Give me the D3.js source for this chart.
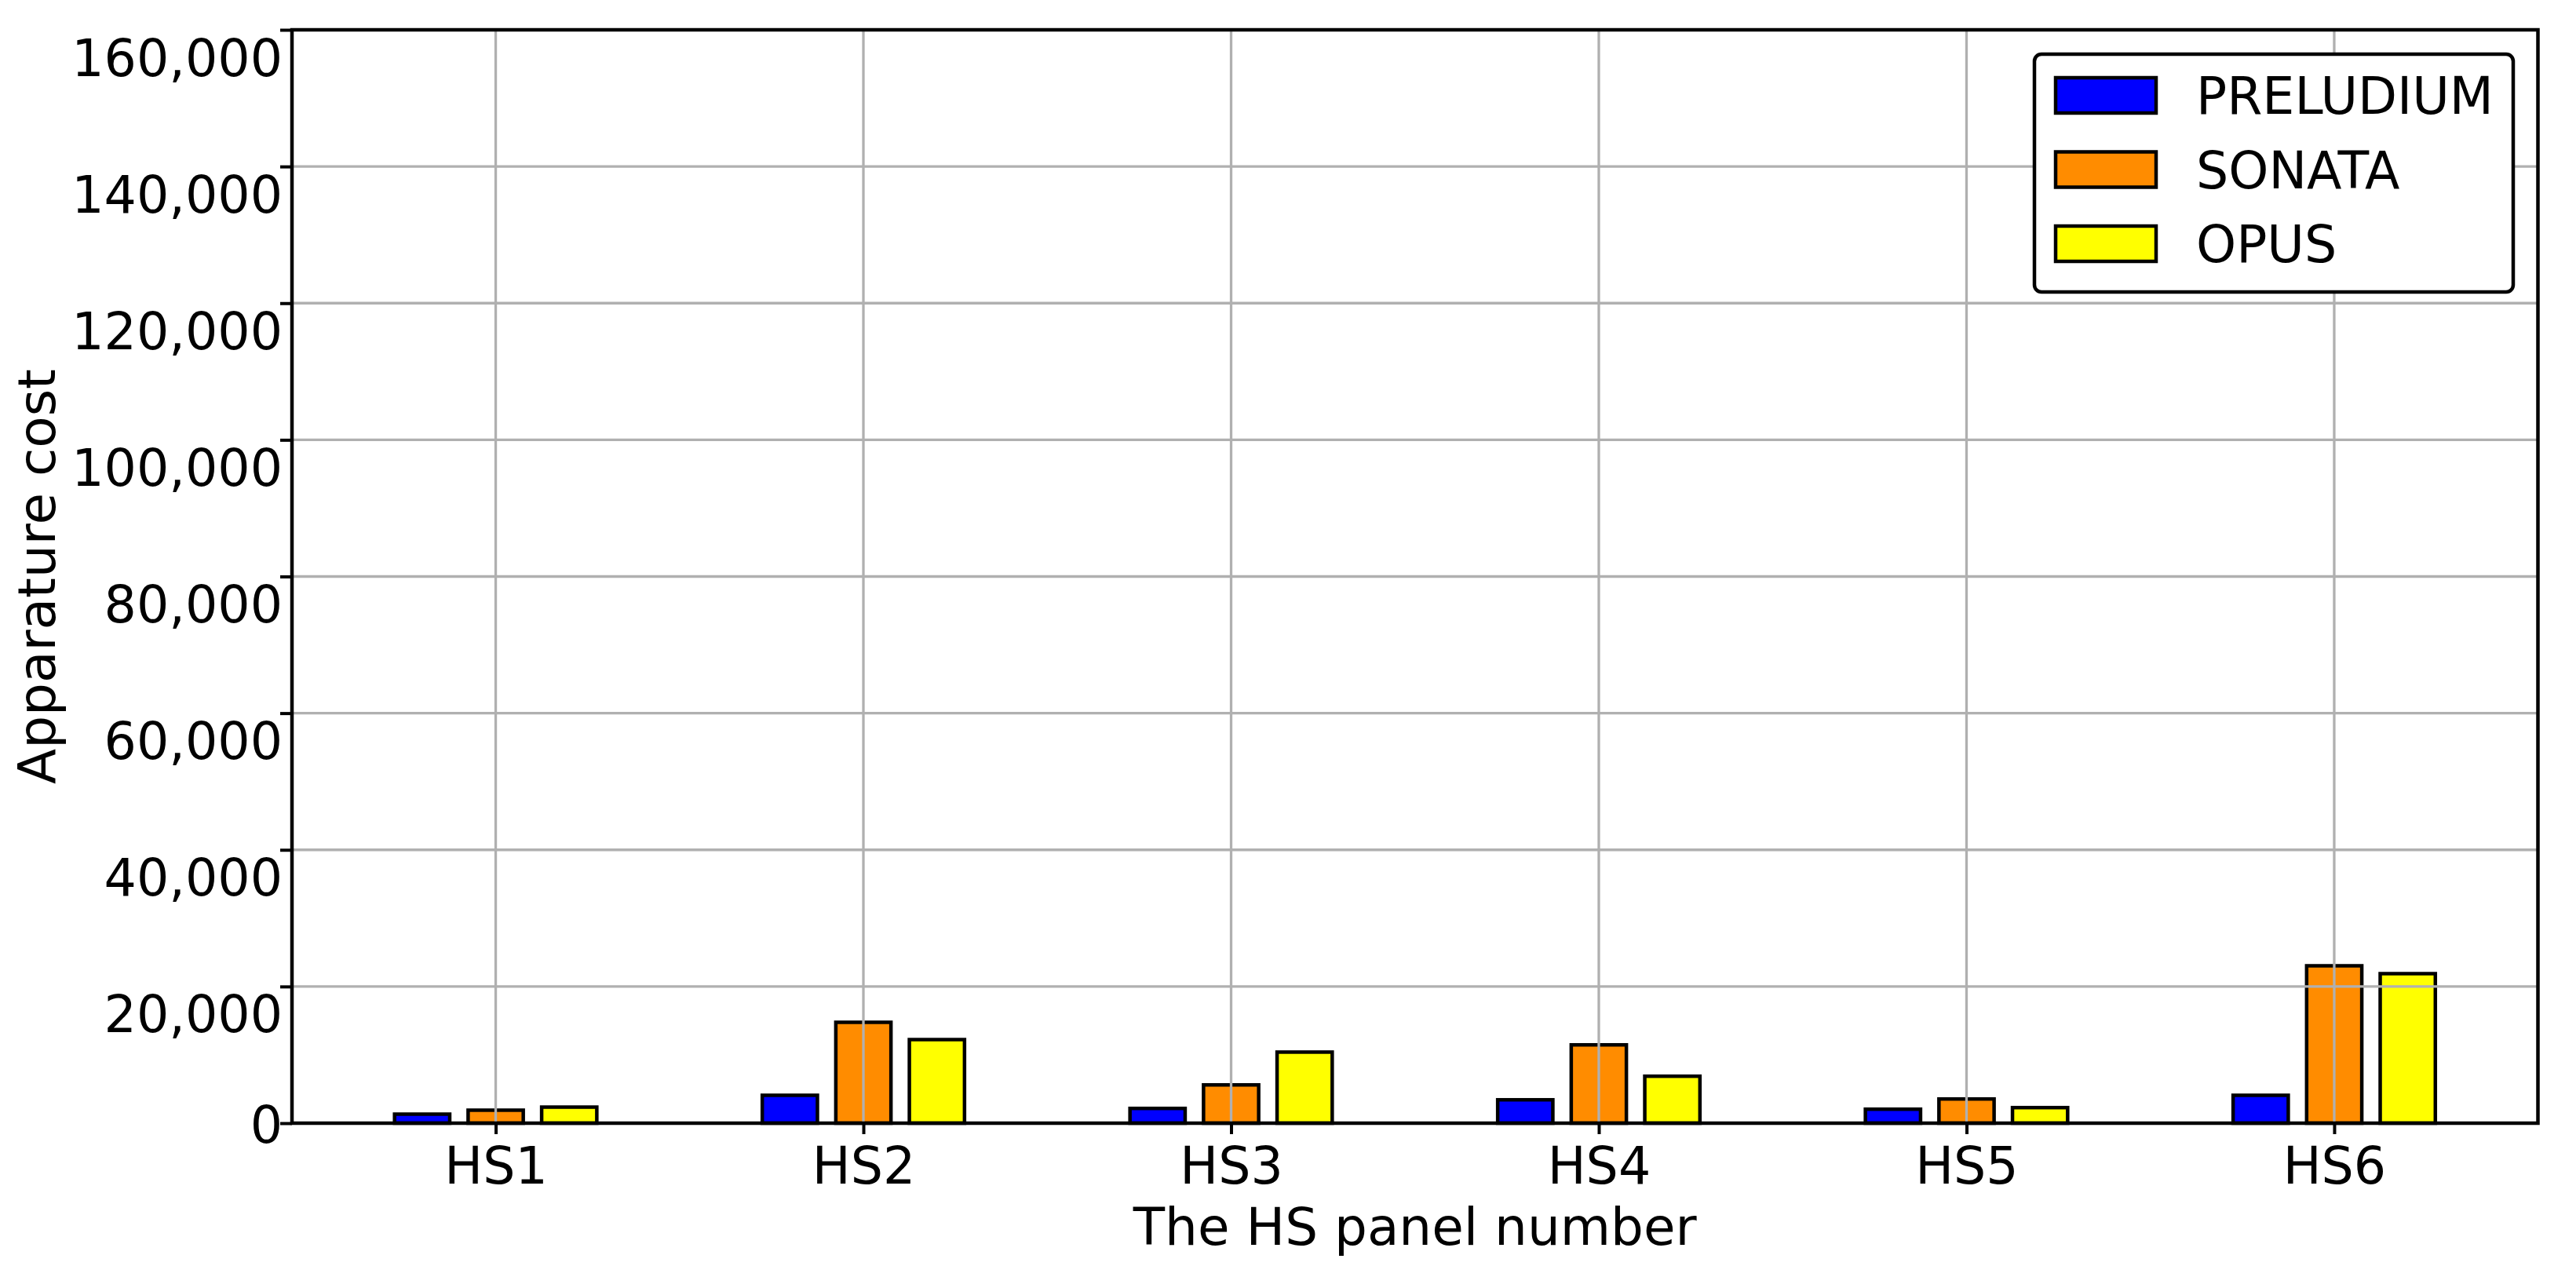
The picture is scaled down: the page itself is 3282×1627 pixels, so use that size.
<!DOCTYPE html>
<html>
<head>
<meta charset="utf-8">
<script src="https://cdn.jsdelivr.net/npm/d3@7"></script>
<style>
  html, body { margin: 0; padding: 0; background: #fff; }
  svg text { font-family: "DejaVu Sans", sans-serif; fill: #000; }
</style>
</head>
<body>
<svg id="chart" width="3282" height="1627"></svg>
<script>
const categories = ["HS1", "HS2", "HS3", "HS4", "HS5", "HS6"];
const seriesNames = ["PRELUDIUM", "SONATA", "OPUS"];
const preludium = [1320, 4080, 2160, 3420, 2045, 4080];
const sonata    = [1900, 14760, 5600, 11460, 3540, 23030];
const opus      = [2350, 12230, 10400, 6870, 2275, 21880];
const seriesColors = ["#0000ff", "#ff8c00", "#ffff00"];
const yTicks = [0, 20000, 40000, 60000, 80000, 100000, 120000, 140000, 160000];
const xLabel = "The HS panel number";
const yLabel = "Apparature cost";

(function () {
const series = [preludium, sonata, opus];

const svg = d3.select("#chart");
const pL = 372, pR = 3233.5, pT = 38, pB = 1431;

const x = d3.scalePoint().domain(categories).range([pL, pR]).padding(0.554);
const step = x.step();
const y = d3.scaleLinear().domain([0, 160000]).range([pB, pT]);

const barW = 0.15 * step;
const offsets = [-0.2, 0, 0.2];

// bars
const gBars = svg.append("g");
series.forEach((vals, si) => {
  gBars.selectAll(null).data(vals).enter().append("rect")
    .attr("x", (d, i) => x(categories[i]) + offsets[si] * step - barW / 2)
    .attr("y", d => y(d))
    .attr("width", barW)
    .attr("height", d => y(0) - y(d))
    .attr("fill", seriesColors[si])
    .attr("stroke", "#000")
    .attr("stroke-width", 4.5);
});

// grid (drawn above bars)
const gGrid = svg.append("g").attr("stroke", "#b0b0b0").attr("stroke-width", 3.3);
gGrid.selectAll(null).data(yTicks).enter().append("line")
  .attr("x1", pL).attr("x2", pR)
  .attr("y1", d => y(d)).attr("y2", d => y(d));
gGrid.selectAll(null).data(categories).enter().append("line")
  .attr("y1", pT).attr("y2", pB)
  .attr("x1", d => x(d)).attr("x2", d => x(d));

// y axis
const fmt = d3.format(",");
const yAxis = d3.axisLeft(y).tickValues(yTicks).tickFormat(fmt).tickSize(15).tickPadding(10);
const gy = svg.append("g").attr("transform", `translate(${pL},0)`).call(yAxis);
gy.select(".domain").remove();
gy.selectAll(".tick line").attr("stroke", "#000").attr("stroke-width", 4);
gy.selectAll(".tick text")
  .attr("font-size", 65)
  .attr("font-family", "DejaVu Sans")
  .attr("x", -12)
  .attr("dy", null)
  .attr("y", function(d) { return fmt(d) === "0" ? 24 : 58; });

// x axis
const xAxis = d3.axisBottom(x).tickSize(14).tickPadding(10);
const gx = svg.append("g").attr("transform", `translate(0,${pB})`).call(xAxis);
gx.select(".domain").remove();
gx.selectAll(".tick line").attr("stroke", "#000").attr("stroke-width", 4);
gx.selectAll(".tick text")
  .attr("font-size", 65)
  .attr("font-family", "DejaVu Sans")
  .attr("dy", null)
  .attr("y", 77);

// spines
svg.append("rect")
  .attr("x", pL).attr("y", pT)
  .attr("width", pR - pL).attr("height", pB - pT)
  .attr("fill", "none").attr("stroke", "#000").attr("stroke-width", 4.5);

// axis labels
svg.append("text")
  .attr("x", (pL + pR) / 2).attr("y", 1586)
  .attr("text-anchor", "middle").attr("font-size", 66)
  .text(xLabel);
svg.append("text")
  .attr("transform", `translate(70,${(pT + pB) / 2}) rotate(-90)`)
  .attr("text-anchor", "middle").attr("font-size", 66)
  .text(yLabel);

// legend
const lg = svg.append("g");
lg.append("rect")
  .attr("x", 2592).attr("y", 69).attr("width", 610).attr("height", 303)
  .attr("rx", 9).attr("ry", 9)
  .attr("fill", "#fff").attr("stroke", "#000").attr("stroke-width", 4.5);
seriesNames.forEach((name, i) => {
  const ry = 99 + i * 94.5;
  lg.append("rect")
    .attr("x", 2619).attr("y", ry).attr("width", 128).attr("height", 45)
    .attr("fill", seriesColors[i]).attr("stroke", "#000").attr("stroke-width", 4.5);
  lg.append("text")
    .attr("x", 2798).attr("y", ry + 46)
    .attr("font-size", 65)
    .text(name);
});
})();
</script>
</body>
</html>
